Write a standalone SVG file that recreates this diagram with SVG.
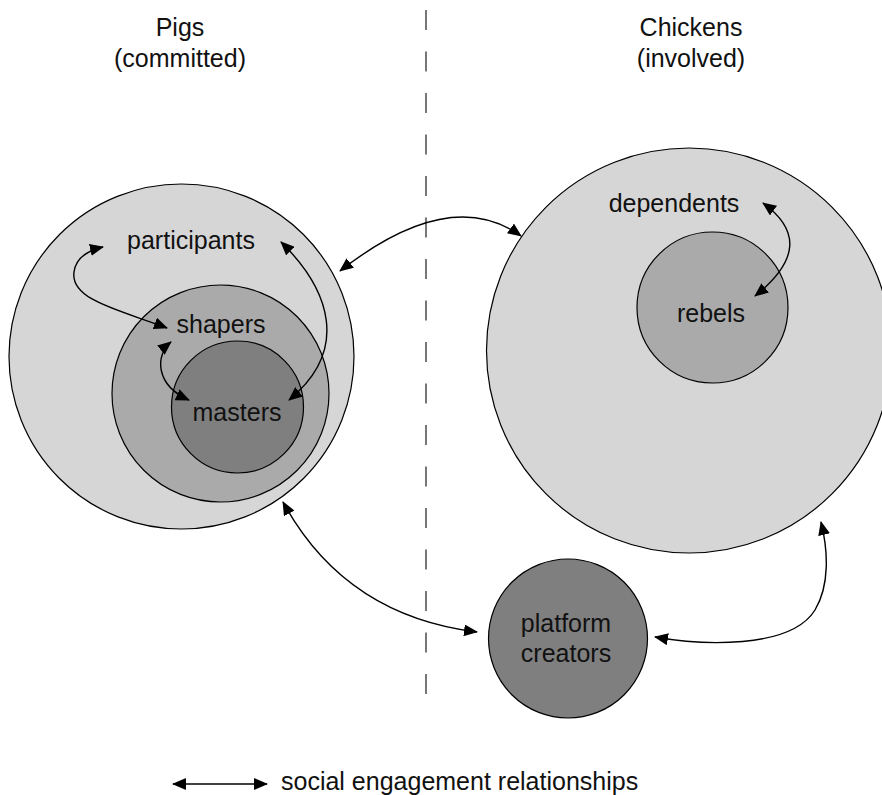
<svg xmlns="http://www.w3.org/2000/svg" width="882" height="795" viewBox="0 0 882 795">
<style>
text{font-family:"Liberation Sans",Arial,sans-serif;font-size:25px;fill:#111;text-anchor:middle}
.c{stroke:#000;stroke-width:1.2}
.l1{fill:#d6d6d6}.l2{fill:#aaaaaa}.l3{fill:#7f7f7f}
.a{fill:none;stroke:#000;stroke-width:1.4;marker-start:url(#ah);marker-end:url(#ah)}
</style>
<defs>
<marker id="ah" viewBox="0 0 14 12" refX="13" refY="6" markerWidth="14" markerHeight="12" markerUnits="userSpaceOnUse" orient="auto-start-reverse">
<path d="M0,0 L14,6 L0,12 z" fill="#000"/>
</marker>
</defs>
<rect width="882" height="795" fill="#fff"/>
<g id="divider"><line x1="426" y1="10" x2="426" y2="694" stroke="#555" stroke-width="1.6" stroke-dasharray="20 21.5"/></g>
<g id="headers">
<text x="180" y="36">Pigs</text><text x="180" y="67">(committed)</text>
<text x="691" y="36">Chickens</text><text x="691" y="67">(involved)</text>
</g>
<g id="participants"><circle class="c l1" cx="181.5" cy="356.5" r="172.5"/><text x="191" y="249">participants</text></g>
<g id="shapers"><circle class="c l2" cx="220.5" cy="393.5" r="108.5"/><text x="221" y="333">shapers</text></g>
<g id="masters"><circle class="c l3" cx="237.5" cy="407" r="66"/><text x="237" y="421">masters</text></g>
<g id="dependents"><circle class="c l1" cx="689" cy="350.5" r="202.5"/><text x="674" y="212">dependents</text></g>
<g id="rebels"><circle class="c l2" cx="712.5" cy="307.5" r="75.5"/><text x="711" y="322">rebels</text></g>
<g id="platform-creators"><circle class="c l3" cx="568" cy="638.5" r="79.5"/><text x="566" y="632">platform</text><text x="566" y="662">creators</text></g>
<g id="connectors">
<path class="a" d="M103 247 C90 250 76 257 74 272 C70 300 120 310 167 328"/>
<path class="a" d="M171 342 C155 355 155 385 189 400"/>
<path class="a" d="M281 242 C330 290 350 350 289 400"/>
<path class="a" d="M340 271 Q450 185 521 236"/>
<path class="a" d="M283 502 C320 570 380 620 477 632"/>
<path class="a" d="M655 637 C700 645 790 650 815 610 C830 585 828 550 821 522"/>
<path class="a" d="M763 203 C800 230 800 260 755 296"/>
</g>
<g id="legend">
<line class="a" x1="173" y1="784" x2="267" y2="784"/>
<text x="281" y="790" style="text-anchor:start">social engagement relationships</text>
</g>
</svg>
